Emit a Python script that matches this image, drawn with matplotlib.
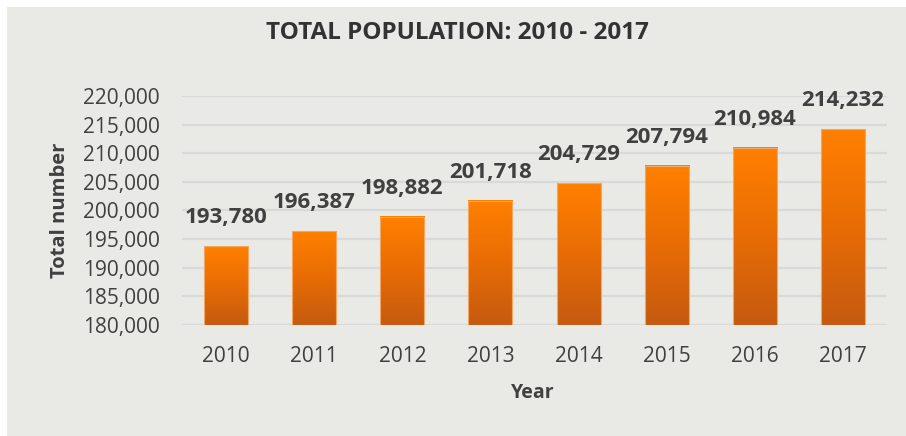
import numpy as np
import matplotlib.pyplot as plt
from matplotlib.colors import LinearSegmentedColormap
from matplotlib.patches import Rectangle
from matplotlib.ticker import FuncFormatter

years = ['2010', '2011', '2012', '2013', '2014', '2015', '2016', '2017']
population = [193780, 196387, 198882, 201718, 204729, 207794, 210984, 214232]
y_ticks = [180000, 185000, 190000, 195000, 200000, 205000, 210000, 215000, 220000]

plt.rcParams['font.family'] = ['Open Sans', 'DejaVu Sans']

fig = plt.figure(figsize=(9.06, 4.36), dpi=100)
fig.patch.set_facecolor('white')
# grey chart panel with a thin white margin on the top and left
panel = fig.add_axes([7 / 906, 0, 1 - 7 / 906, 1 - 7 / 436], zorder=0)
panel.set_facecolor('#E9EAE6')
panel.set_xticks([])
panel.set_yticks([])
for s in panel.spines.values():
    s.set_visible(False)

ax = fig.add_axes([182 / 906, 1 - 325 / 436, 705 / 906, 229 / 436], zorder=1)
ax.set_facecolor('none')

# orange gradient, light on top and darker at the base
cmap = LinearSegmentedColormap.from_list('bar', ['#C55A11', '#E86C05', '#FF8000'])
grad = np.linspace(0, 1, 256).reshape(-1, 1)

x = np.arange(len(years))
width = 0.5
ymin, ymax = y_ticks[0], y_ticks[-1]
for xi, val in zip(x, population):
    ax.imshow(grad, cmap=cmap, origin='lower', aspect='auto',
              extent=[xi - width / 2, xi + width / 2, ymin, val], zorder=3)
    ax.add_patch(Rectangle((xi - width / 2, ymin), width, val - ymin, fill=False,
                           edgecolor='#F2A766', linewidth=0.8, zorder=4))
    ax.annotate(f'{val:,}', (xi, val), xytext=(0, 13), textcoords='offset points',
                ha='center', va='bottom', fontsize=16, fontweight='bold',
                color='#404040', zorder=5, annotation_clip=False)

ax.set_xlim(-0.5, len(years) - 0.5)
ax.set_ylim(ymin, ymax)
ax.set_yticks(y_ticks)
ax.yaxis.set_major_formatter(FuncFormatter(lambda v, p: f'{int(v):,}'))
ax.set_xticks(x)
ax.set_xticklabels(years)
ax.tick_params(length=0, labelsize=15, colors='#404040')
ax.tick_params(axis='y', pad=16)
ax.tick_params(axis='x', pad=15)
ax.grid(axis='y', color='#D9D9D9', linewidth=1.6, zorder=1)
ax.set_axisbelow(True)
for s in ax.spines.values():
    s.set_visible(False)

fig.text(457 / 906, 1 - 33 / 436, 'TOTAL POPULATION: 2010 - 2017', ha='center', va='center',
         fontsize=17.5, fontweight='bold', color='#333333', zorder=2)
fig.text(60 / 906, 1 - 210 / 436, 'Total number', ha='center', va='center', rotation=90,
         fontsize=14.5, fontweight='bold', color='#404040', zorder=2)
fig.text(533 / 906, 1 - 393 / 436, 'Year', ha='center', va='center',
         fontsize=14, fontweight='bold', color='#404040', zorder=2)

fig.savefig('out.png', dpi=100, facecolor=fig.get_facecolor())
